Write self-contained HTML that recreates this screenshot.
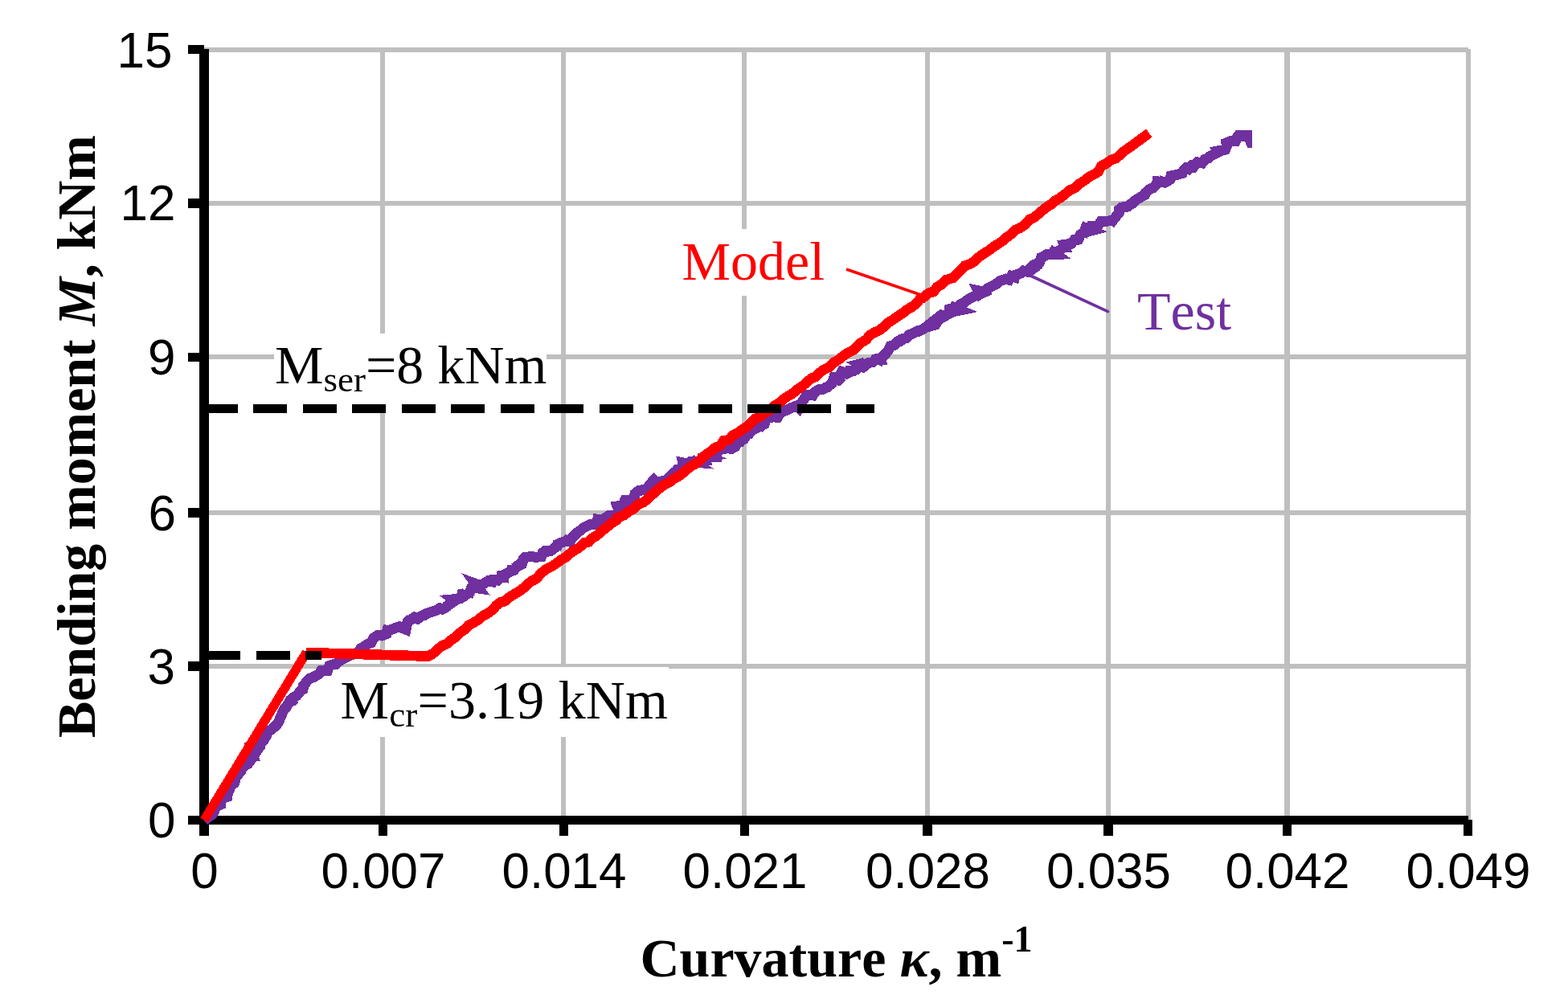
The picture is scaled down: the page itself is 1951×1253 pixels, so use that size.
<!DOCTYPE html>
<html lang="en">
<head>
<meta charset="utf-8">
<title>Bending moment vs curvature</title>
<style>
html,body{margin:0;padding:0;background:#ffffff;}
body{width:1951px;height:1253px;overflow:hidden;}
svg{display:block;}
text{font-kerning:none;font-variant-ligatures:none;}
</style>
</head>
<body>
<svg width="1951" height="1253" viewBox="0 0 1951 1253" role="img" aria-label="Bending moment versus curvature chart">
<rect x="0" y="0" width="1951" height="1253" fill="#ffffff"/>
<!-- gridlines -->
<g fill="#bfbfbf" shape-rendering="crispEdges">
<rect x="254" y="59" width="1573" height="6"/>
<rect x="254" y="250" width="1573" height="6"/>
<rect x="254" y="441" width="1573" height="6"/>
<rect x="254" y="635" width="1573" height="6"/>
<rect x="254" y="826" width="1573" height="6"/>
<rect x="473" y="61" width="6" height="955"/>
<rect x="698" y="61" width="6" height="955"/>
<rect x="923" y="61" width="6" height="955"/>
<rect x="1151" y="61" width="6" height="955"/>
<rect x="1376" y="61" width="6" height="955"/>
<rect x="1598" y="61" width="7" height="955"/>
<rect x="1824" y="61" width="6" height="959"/>
</g>
<!-- label backgrounds -->
<g fill="#ffffff" shape-rendering="crispEdges">
<rect x="341" y="415" width="339" height="87.5"/>
<rect x="423" y="830" width="408.5" height="87"/>
<rect x="848" y="285" width="180" height="83"/>
</g>
<!-- axes and ticks -->
<g fill="#000000" shape-rendering="crispEdges">
<rect x="248" y="61" width="12" height="979"/>
<rect x="234" y="1015" width="1593" height="11"/>
<rect x="234" y="56" width="20" height="11"/>
<rect x="234" y="247" width="20" height="12"/>
<rect x="234" y="439" width="20" height="11"/>
<rect x="234" y="632" width="20" height="12"/>
<rect x="234" y="823" width="20" height="12"/>
<rect x="471" y="1020" width="11" height="20"/>
<rect x="696" y="1020" width="11" height="20"/>
<rect x="921" y="1020" width="11" height="20"/>
<rect x="1148" y="1020" width="12" height="20"/>
<rect x="1373" y="1020" width="12" height="20"/>
<rect x="1596" y="1020" width="11" height="20"/>
<rect x="1821" y="1020" width="11" height="20"/>
</g>
<!-- series -->
<g shape-rendering="crispEdges" stroke-linejoin="miter">
<polyline points="254.0,1021.0 257.0,1018.2 262.6,1014.5 266.0,1010.7 267.1,1006.6 268.3,1004.0 274.6,1001.1 275.6,994.0 282.9,991.5 283.2,987.1 285.9,981.4 287.3,977.0 291.6,974.3 293.2,968.4 295.2,964.9 300.1,959.2 300.5,956.6 304.8,952.0 308.9,950.2 311.5,946.4 304.9,949.7 309.6,946.1 310.3,940.7 310.0,942.6 315.4,941.6 312.8,932.4 318.2,933.8 323.0,928.3 324.6,924.4 328.2,921.1 331.1,915.9 330.7,911.6 337.9,907.8 338.2,907.5 344.1,901.9 346.5,898.8 348.9,892.9 350.2,890.0 353.5,882.4 356.6,879.5 360.3,872.7 361.5,872.9 357.8,872.4 364.5,871.7 367.5,869.3 359.4,874.1 365.3,867.6 369.3,865.5 374.0,859.5 376.9,857.8 377.6,853.2 382.5,846.8 385.4,844.1 391.2,842.1 396.5,838.8 398.1,837.2 399.4,834.9 407.5,834.6 409.9,828.4 415.7,826.4 417.6,826.6 421.8,822.8 429.3,818.6 432.2,817.2 437.6,814.4 442.7,813.7 444.8,811.6 449.5,806.6 452.0,805.2 458.1,801.1 461.7,799.8 464.7,793.9 469.4,790.9 475.1,791.0 480.9,788.6 482.0,784.2 484.0,784.4 491.9,781.5 497.0,779.8 505.0,783.2 506.3,776.4 507.2,773.6 511.1,770.1 508.2,773.2 515.6,768.0 519.5,770.1 525.5,765.9 528.2,764.8 531.9,762.9 525.7,766.9 532.7,762.7 536.2,761.8 542.5,759.4 547.4,756.8 550.6,758.1 555.6,755.2 556.1,754.0 566.3,747.4 564.1,745.8 572.3,745.0 576.9,741.9 568.9,738.9 577.9,740.5 578.9,739.2 581.0,735.7 578.9,734.6 584.5,736.6 586.3,732.2 591.1,732.3 584.6,728.8 590.7,731.3 595.6,732.0 591.6,726.4 597.9,728.7 602.3,725.9 607.7,722.6 612.7,723.8 613.6,721.6 619.2,722.0 625.2,716.1 619.3,716.8 627.1,718.1 627.3,715.0 634.3,711.8 636.4,710.0 631.9,709.8 639.7,709.2 640.9,707.5 644.9,703.1 649.5,700.7 639.6,707.1 649.1,702.4 651.4,695.3 653.5,693.4 660.5,692.6 666.6,693.2 673.5,692.8 675.5,687.8 681.5,685.9 673.0,689.7 678.2,685.6 685.6,685.2 690.0,681.8 693.8,678.6 687.8,678.1 694.0,678.7 695.0,676.7 701.2,674.1 707.3,673.0 701.2,671.3 709.4,674.2 711.1,669.6 715.3,665.7 718.2,662.7 721.6,660.5 726.0,656.7 730.4,654.5 735.5,652.2 742.5,652.6 743.7,646.4 748.9,647.4 754.0,643.7 757.1,641.9 761.7,641.6 768.9,639.4 770.0,634.7 768.2,629.9 775.0,628.9 777.9,622.1 786.2,622.3 789.3,618.5 790.1,614.2 794.8,610.4 798.0,610.1 805.1,608.0 808.1,603.5 813.4,597.4 817.2,601.1 822.0,599.3 831.9,596.6 834.6,593.1 827.5,601.2 832.2,594.7 836.2,590.2 838.9,587.7 842.9,585.8 836.0,591.9 843.0,584.1 846.8,583.5 850.8,581.4 856.8,577.3 849.9,575.9 851.3,581.4 859.0,574.6 864.9,575.1 859.5,571.3 865.0,575.8 868.9,575.0 877.9,573.4 876.5,569.1 880.8,568.3 877.2,566.9 882.4,568.1 891.3,568.4 891.1,565.7 896.4,558.3 900.0,558.7 904.2,557.8 910.4,558.3 914.6,556.1 917.6,550.8 924.1,549.0 917.0,548.7 924.9,546.5 925.1,545.8 928.8,542.2 924.3,546.0 929.1,539.4 934.6,535.1 929.6,543.2 932.6,538.7 939.5,531.3 939.5,533.6 948.1,529.4 943.8,533.8 947.4,529.6 951.2,527.8 953.2,521.0 957.3,519.6 962.6,518.8 967.4,519.4 970.6,513.6 974.0,509.3 971.2,510.6 974.8,511.9 980.2,509.6 981.2,509.0 991.1,504.9 994.0,507.6 997.7,500.7 1001.0,495.8 1004.1,491.3 1011.4,491.9 1013.8,488.0 1018.6,484.8 1024.4,484.1 1027.1,482.4 1029.8,481.9 1035.5,476.5 1037.6,469.9 1043.1,471.5 1048.4,468.4 1039.8,476.0 1047.5,462.5 1053.5,464.5 1059.0,461.7 1049.9,466.8 1058.2,462.5 1061.5,460.9 1052.1,461.3 1059.0,462.3 1064.4,460.9 1059.2,462.4 1066.0,459.7 1070.3,455.8 1075.5,451.4 1069.0,453.1 1074.4,456.5 1080.4,451.6 1086.2,450.4 1088.4,447.8 1096.0,447.4 1094.4,441.1 1092.0,452.1 1098.5,443.5 1100.3,441.9 1105.0,436.6 1107.7,430.9 1110.7,429.8 1113.8,429.5 1111.2,430.2 1113.7,428.7 1117.4,424.4 1123.1,422.3 1117.1,426.4 1121.3,422.0 1127.5,420.9 1131.3,416.8 1138.5,413.6 1142.0,411.6 1143.7,412.0 1149.8,408.8 1155.9,404.0 1155.0,406.6 1163.7,404.1 1168.0,398.1 1172.5,392.2 1176.7,392.8 1171.3,396.0 1176.9,391.8 1181.1,388.9 1184.7,383.7 1176.6,386.0 1185.5,387.8 1194.3,386.0 1182.2,381.0 1188.5,382.7 1190.0,382.4 1188.1,387.5 1192.2,381.1 1194.0,379.3 1200.7,376.0 1203.1,373.6 1209.8,369.9 1211.7,369.0 1218.9,365.7 1221.9,362.8 1217.2,361.8 1219.2,365.7 1225.1,361.3 1218.3,366.2 1228.0,362.3 1228.6,359.2 1233.4,356.7 1239.5,353.4 1243.6,349.9 1251.4,347.1 1255.5,348.2 1258.4,343.5 1262.5,344.9 1263.1,342.4 1270.8,339.8 1273.5,337.1 1279.9,338.4 1286.0,333.8 1290.9,330.9 1280.9,335.1 1287.1,329.1 1291.9,328.6 1294.2,323.3 1292.1,329.9 1295.5,320.6 1297.6,319.9 1302.6,316.5 1308.4,316.8 1314.1,316.5 1305.2,310.1 1313.7,316.5 1313.4,316.2 1323.9,306.7 1324.8,306.8 1324.0,304.5 1333.0,303.2 1336.9,298.4 1341.7,298.1 1344.4,291.8 1349.1,289.2 1350.8,286.8 1347.0,293.6 1350.8,283.8 1358.0,286.9 1348.5,289.4 1358.3,284.1 1358.7,281.9 1365.5,281.8 1369.7,275.7 1373.5,275.5 1380.1,274.9 1385.3,273.4 1385.4,273.5 1392.9,264.1 1392.8,260.5 1396.0,258.0 1403.2,257.1 1406.2,254.1 1409.3,253.1 1412.9,249.1 1415.8,247.4 1424.6,242.3 1425.5,239.7 1429.7,235.9 1434.7,233.7 1439.5,229.1 1440.0,225.9 1446.5,226.2 1441.1,224.2 1449.1,227.1 1453.4,225.3 1456.0,223.1 1457.0,219.0 1464.0,217.6 1471.2,215.5 1472.6,212.4 1476.9,208.2 1480.1,207.7 1475.5,213.4 1484.0,205.1 1486.7,204.4 1478.1,208.6 1484.5,208.4 1490.3,201.9 1495.8,202.9 1498.9,198.5 1503.7,196.8 1505.1,194.9 1514.7,189.8 1514.1,188.2 1524.5,186.2 1526.7,180.9 1526.0,177.9 1532.0,175.5 1537.3,175.8 1540.1,169.7 1541.0,168.5 1541.0,168.5 1551.0,168.3" fill="none" stroke="#7030a0" stroke-width="13" stroke-miterlimit="4"/>
<polygon points="1540,161.8 1558,162 1558,183.5 1552,183.5 1549,176 1540,175" fill="#7030a0"/>
<polyline points="254.0,1020.5 381.5,811.5" fill="none" stroke="#ff0000" stroke-width="11.5" />
<polyline points="380.8,812.0 532.5,816.6 538.3,813.6 543.0,809.3 549.3,804.1 557.0,800.4 560.9,796.8 567.6,792.1 572.8,787.1 577.7,783.5 582.5,778.5 587.9,775.5 594.9,771.4 600.8,766.4 606.3,763.7 612.8,758.7 617.4,753.5 623.0,749.3 627.9,748.2 632.9,743.8 640.8,738.7 646.6,735.4 652.8,730.6 657.0,726.2 662.3,722.6 668.2,719.5 672.9,713.5 679.4,708.5 687.6,704.1 691.3,701.7 698.8,696.2 703.9,693.3 708.5,689.2 714.9,684.7 719.9,682.0 727.3,675.4 732.7,674.3 736.6,669.6 742.2,666.7 748.5,660.9 753.8,656.9 759.5,652.1 767.2,647.1 767.8,644.6 776.6,641.0 782.2,636.4 788.4,633.3 793.3,628.0 801.1,624.7 804.2,622.2 811.4,615.5 815.4,612.2 821.3,606.9 826.6,603.3 834.4,599.2 837.8,596.1 844.8,592.2 851.5,587.1 856.0,583.1 860.7,579.7 868.7,575.1 872.9,570.6 878.1,566.0 884.1,561.9 889.7,557.1 896.1,554.5 900.4,548.3 907.1,547.2 912.1,541.7 918.0,538.6 923.3,534.8 929.5,530.6 935.5,525.5 939.8,521.0 946.6,518.1 952.7,512.8 958.5,510.2 963.7,504.8 969.1,501.8 975.7,496.1 981.2,492.4 985.8,489.9 992.9,484.0 997.9,481.0 1002.9,476.3 1009.8,470.7 1015.1,468.9 1020.9,462.9 1026.4,459.2 1032.3,456.4 1037.6,451.0 1042.6,448.3 1048.0,443.9 1054.9,439.1 1062.2,435.3 1067.7,429.3 1069.4,427.8 1077.6,422.6 1082.7,417.0 1087.8,413.7 1093.8,411.3 1099.7,406.7 1104.7,401.8 1111.1,397.8 1117.8,393.2 1124.0,389.0 1128.9,385.0 1135.1,381.7 1139.6,378.1 1144.4,372.4 1148.8,370.3 1155.6,364.6 1161.9,362.8 1166.0,357.1 1172.8,353.2 1177.2,348.3 1185.3,345.9 1191.6,339.6 1195.9,336.1 1200.3,330.8 1207.8,328.2 1212.7,325.0 1217.6,320.2 1224.1,315.6 1230.2,311.7 1235.7,307.6 1242.8,303.0 1247.7,299.7 1252.1,295.7 1257.3,291.9 1263.0,286.3 1269.7,283.4 1275.8,279.3 1280.5,273.5 1286.8,270.5 1291.1,267.0 1297.8,261.2 1303.7,256.7 1308.2,254.1 1313.2,249.7 1319.1,246.2 1325.3,241.6 1330.2,237.0 1338.1,233.6 1341.3,229.9 1349.4,224.6 1355.5,219.8 1359.8,217.7 1366.7,213.7 1370.2,206.8 1377.2,203.0 1382.4,199.0 1389.1,196.8 1394.3,191.9 1399.5,187.5 1404.0,184.5 1429.8,165.6" fill="none" stroke="#ff0000" stroke-width="12.7" stroke-miterlimit="6"/>
</g>
<!-- dashed reference lines -->
<g shape-rendering="crispEdges" stroke="#000000" stroke-width="10.6" stroke-dasharray="42 19.5">
<line x1="253.5" y1="508.5" x2="1088" y2="508.5"/>
<line x1="257" y1="815.4" x2="400" y2="815.4"/>
</g>
<!-- leader lines -->
<line x1="1053" y1="335" x2="1146" y2="367" stroke="#ff0000" stroke-width="3.6"/>
<line x1="1280" y1="342" x2="1378.5" y2="387.6" stroke="#7030a0" stroke-width="3.6" stroke-linecap="round"/>
<!-- tick labels -->
<g font-family="'Liberation Sans', Arial, sans-serif" font-size="64" fill="#000000">
<text transform="translate(214.5,83.8) scale(0.968,0.992)" text-anchor="end">15</text>
<text transform="translate(218.5,274.2) scale(0.968,0.992)" text-anchor="end">12</text>
<text transform="translate(218.5,465.8) scale(0.968,0.992)" text-anchor="end">9</text>
<text transform="translate(219,660.3) scale(0.968,0.992)" text-anchor="end">6</text>
<text transform="translate(218,851.3) scale(0.968,0.992)" text-anchor="end">3</text>
<text transform="translate(218.5,1042.3) scale(0.968,0.992)" text-anchor="end">0</text>
<text transform="translate(254.5,1105.2) scale(0.968,0.992)" text-anchor="middle">0</text>
<text transform="translate(477,1105.2) scale(0.968,0.992)" text-anchor="middle">0.007</text>
<text transform="translate(702,1105.2) scale(0.968,0.992)" text-anchor="middle">0.014</text>
<text transform="translate(927,1105.2) scale(0.968,0.992)" text-anchor="middle">0.021</text>
<text transform="translate(1154.5,1105.2) scale(0.968,0.992)" text-anchor="middle">0.028</text>
<text transform="translate(1379.5,1105.2) scale(0.968,0.992)" text-anchor="middle">0.035</text>
<text transform="translate(1602,1105.2) scale(0.968,0.992)" text-anchor="middle">0.042</text>
<text transform="translate(1827,1105.2) scale(0.968,0.992)" text-anchor="middle">0.049</text>
</g>
<!-- annotations and titles -->
<g font-family="'Liberation Serif', 'Times New Roman', serif" font-size="68" fill="#000000">
<text x="342" y="477">M<tspan font-size="45" dy="10">ser</tspan><tspan dy="-10">=8 kNm</tspan></text>
<text x="423.5" y="894" letter-spacing="0.15">M<tspan font-size="45" dy="10">cr</tspan><tspan dy="-10">=3.19 kNm</tspan></text>
<text x="848.5" y="348" fill="#ff0000">Model</text>
<text x="1415" y="410" fill="#7030a0">Test</text>
<text x="796.5" y="1215" font-weight="bold">Curvature <tspan font-style="italic">κ</tspan>, m<tspan font-size="46" dy="-31">-1</tspan></text>
<text transform="translate(118,918) rotate(-90)" font-weight="bold" textLength="750" lengthAdjust="spacing">Bending moment <tspan font-style="italic">M</tspan>, kNm</text>
</g>
</svg>
</body>
</html>
